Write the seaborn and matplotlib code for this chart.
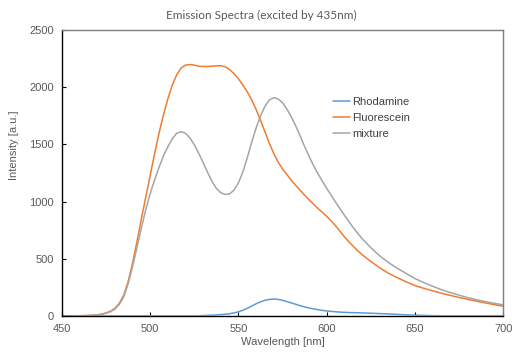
import numpy as np
import pandas as pd
import matplotlib
matplotlib.use("Agg")
import matplotlib.pyplot as plt
import seaborn as sns

wavelength = ([450, 455, 460, 465]
              + [470 + 2.5 * i for i in range(61)]
              + [625, 630, 635, 640, 645, 650, 655, 660, 665, 670, 675, 680, 685, 690, 695, 700])

nan = np.nan
rhodamine = ([nan, nan, nan, 0]
             + [0] * 24
             + [2, 3, 5, 7, 10, 13, 18, 25, 35, 48,
                65, 85, 105, 122, 135, 143, 146, 143, 135, 124,
                112, 100, 88, 77, 68, 60, 53, 47, 42, 38,
                35, 32, 30, 28, 27, 26, 25]
             + [22, 19, 16, 12, 8, 5, 3, 1, 0, 0, 0, 0, 0, 0, 0, 0])

fluorescein = ([0, 0, 0, 2]
               + [8, 14, 25, 40, 65, 110, 180, 300, 460, 650,
                  850, 1040, 1230, 1420, 1600, 1760, 1900, 2020, 2110, 2170,
                  2195, 2200, 2195, 2185, 2183, 2183, 2185, 2188, 2190, 2180,
                  2155, 2120, 2075, 2020, 1960, 1890, 1805, 1710, 1610, 1510,
                  1420, 1345, 1285, 1235, 1185, 1140, 1098, 1055, 1015, 978,
                  940, 905, 870, 830, 788, 740, 692, 648, 608, 570, 535]
               + [475, 420, 372, 333, 297, 264, 240, 218, 197, 178, 160, 143, 127, 112, 97, 83])

mixture = ([0, 0, 0, 2]
           + [7, 12, 22, 36, 58, 100, 165, 280, 430, 600,
              770, 930, 1070, 1190, 1300, 1400, 1480, 1550, 1598, 1612,
              1597, 1557, 1497, 1422, 1340, 1255, 1175, 1115, 1077, 1062,
              1068, 1100, 1165, 1260, 1385, 1520, 1645, 1750, 1835, 1890,
              1910, 1898, 1865, 1808, 1740, 1660, 1572, 1480, 1395, 1315,
              1245, 1178, 1115, 1055, 995, 937, 880, 825, 772, 722, 676]
           + [595, 525, 465, 415, 370, 325, 290, 258, 228, 203, 180, 158, 140, 123, 108, 96])

series_names = ["Rhodamine", "Fluorescein", "mixture"]
colors = ["#5B9BD5", "#ED7D31", "#A5A5A5"]

n = len(wavelength)
df = pd.DataFrame({
    "Wavelength": wavelength * 3,
    "Intensity": rhodamine + fluorescein + mixture,
    "Series": [series_names[0]] * n + [series_names[1]] * n + [series_names[2]] * n,
})

sns.set_theme(style="white")
plt.rcParams["font.family"] = ["Liberation Sans", "DejaVu Sans"]

fig = plt.figure(figsize=(5.12, 3.52), dpi=100)
ax = fig.add_axes([0.121, 0.103, 0.862, 0.811])

sns.lineplot(data=df, x="Wavelength", y="Intensity", hue="Series",
             hue_order=series_names, palette=colors, linewidth=1.1, ax=ax,
             estimator=None, sort=True)
ax.lines[0].set_zorder(5)

ax.set_xlim(450, 700)
ax.set_ylim(0, 2500)
ax.set_xticks(range(450, 701, 50))
ax.set_yticks(range(0, 2501, 500))
ax.tick_params(direction="in", length=3, width=0.8, colors="#000000",
               labelcolor="#595959", labelsize=8, pad=6, left=True, bottom=True)

for s in ["left", "bottom"]:
    ax.spines[s].set_color("#000000")
    ax.spines[s].set_linewidth(1.0)
for s in ["top", "right"]:
    ax.spines[s].set_color("#7f7f7f")
    ax.spines[s].set_linewidth(1.0)

ax.set_xlabel("Wavelength [nm]", fontsize=8, color="#595959", labelpad=2)
ax.set_ylabel("Intensity [a.u.]", fontsize=8, color="#595959")
ax.yaxis.set_label_coords(-0.098, 0.596)

fig.text(0.51, 0.957, "Emission Spectra (excited by 435nm)", ha="center", va="center",
         fontsize=8.5, color="#595959", family=["Lato", "DejaVu Sans"])

leg = ax.legend(loc="upper left", bbox_to_anchor=(0.605, 0.783), frameon=False,
                fontsize=8, handlelength=1.5, handletextpad=0.2, labelspacing=0.55,
                borderaxespad=0)
for t in leg.get_texts():
    t.set_color("#404040")

fig.savefig("out.png", dpi=100)
